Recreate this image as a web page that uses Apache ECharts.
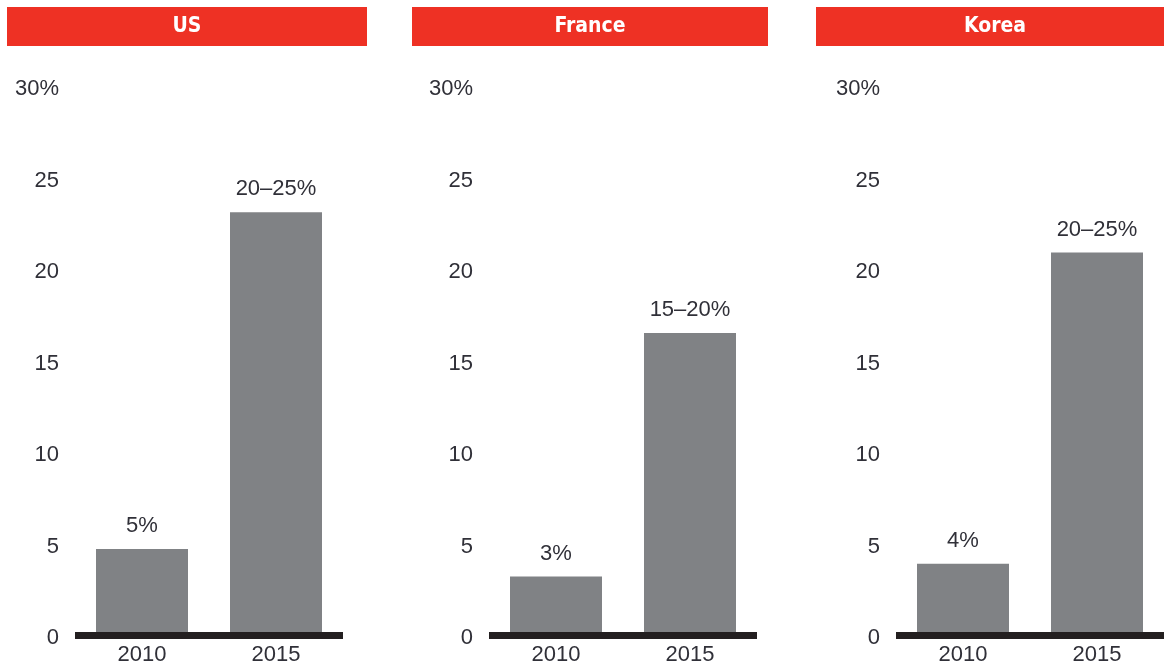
<!DOCTYPE html>
<html>
<head>
<meta charset="utf-8">
<script src="https://cdn.jsdelivr.net/npm/echarts@6/dist/echarts.min.js"></script>
<style>
html,body{margin:0;padding:0;background:#fff;}
#main{width:1164px;height:666px;}
</style>
</head>
<body>
<div id="main"></div>
<script>
// ---- data ----
const countries = ['US', 'France', 'Korea'];
const categories = ['2010', '2015'];
const usValues = [4.7, 23.1];
const franceValues = [3.2, 16.5];
const koreaValues = [3.9, 20.9];
const usLabels = ['5%', '20–25%'];
const franceLabels = ['3%', '15–20%'];
const koreaLabels = ['4%', '20–25%'];
const yMin = 0, yMax = 30, yStep = 5;

// ---- layout ----
const seriesValues = [usValues, franceValues, koreaValues];
const seriesLabels = [usLabels, franceLabels, koreaLabels];
const gridLefts = [75, 489, 896];
const headerBoxes = [[7, 360], [412, 356], [816, 360]];
const TXT = '#303038';
const FONT = "'Liberation Sans', Arial, sans-serif";

const grids = [], xAxes = [], yAxes = [], series = [], graphics = [];
countries.forEach((c, i) => {
  grids.push({ left: gridLefts[i], top: 86, width: 268, height: 549 });
  xAxes.push({
    type: 'category', gridIndex: i, data: categories, z: 5,
    axisLine: { show: true, lineStyle: { color: '#231f20', width: 7, cap: 'butt' } },
    axisTick: { show: false },
    axisLabel: { color: TXT, fontSize: 22, fontFamily: FONT, margin: 9 },
    splitLine: { show: false }
  });
  yAxes.push({
    type: 'value', gridIndex: i, min: yMin, max: yMax, interval: yStep,
    axisLine: { show: false }, axisTick: { show: false }, splitLine: { show: false },
    axisLabel: {
      color: TXT, fontSize: 22, fontFamily: FONT, margin: 16, align: 'right',
      formatter: v => '{v|' + (v === yMax ? v + '%' : String(v)) + '}',
      rich: { v: { color: TXT, fontSize: 22, fontFamily: FONT, padding: [6, 0, 0, 0] } }
    }
  });
  const labs = seriesLabels[i];
  series.push({
    type: 'bar', xAxisIndex: i, yAxisIndex: i, data: seriesValues[i],
    barWidth: 92,
    itemStyle: { color: '#808285' },
    label: {
      show: true, position: 'top', distance: 12,
      color: TXT, fontSize: 22, fontFamily: FONT,
      formatter: p => labs[p.dataIndex]
    }
  });
  const hb = headerBoxes[i];
  graphics.push({
    type: 'rect', left: hb[0], top: 7,
    shape: { width: hb[1], height: 39 },
    style: { fill: '#ee3124' }
  });
  graphics.push({
    type: 'text', x: hb[0] + hb[1] / 2 - (i === 2 ? 1 : 0), y: 27,
    style: {
      text: c, fill: '#ffffff', align: 'center', verticalAlign: 'middle',
      font: "bold 21px 'Liberation Sans Narrow', 'DejaVu Sans Condensed', 'Liberation Sans', sans-serif"
    }
  });
});

const chart = echarts.init(document.getElementById('main'), null, { renderer: 'canvas' });
chart.setOption({
  animation: false,
  backgroundColor: '#ffffff',
  grid: grids, xAxis: xAxes, yAxis: yAxes, series: series,
  graphic: graphics
});
</script>
</body>
</html>
